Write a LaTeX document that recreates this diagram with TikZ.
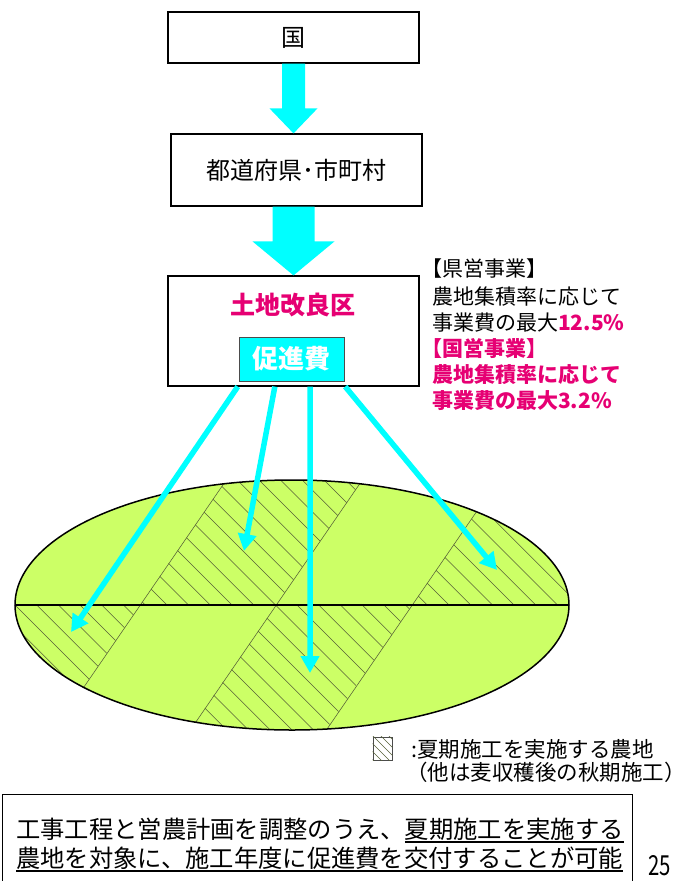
\documentclass[tikz,border=0pt]{standalone}
\usepackage{fontspec}
\setmainfont{Noto Sans CJK JP}
\usetikzlibrary{arrows.meta,calc}
\definecolor{mag}{RGB}{230,0,115}
\definecolor{fieldgreen}{RGB}{204,255,102}
\definecolor{hatchc}{RGB}{85,95,55}
\definecolor{aqua}{RGB}{0,255,255}
\newcommand\myul[1]{\setbox0\hbox{#1}\rlap{\rule[-5pt]{\wd0}{1.8pt}}\box0}
\newcommand\fsz[1]{\fontsize{#1}{#1}\selectfont}
\begin{document}
\begin{tikzpicture}[x=1pt,y=-1pt,
  box/.style={draw, line width=1.2pt, fill=white, inner sep=0pt},
  thinarrow/.style={aqua, line width=5.5pt, -{Triangle[length=17pt,width=18pt]}},
  hatch/.style={hatchc, line width=0.55pt},
  txt/.style={inner sep=0pt, anchor=base west},
]
\useasboundingbox (0,0) rectangle (700,881);

% ---------- boxes ----------
\node[box, minimum width=251pt, minimum height=51pt, font=\fsz{24}] (kuni) at (293.5,37.5) {国};
\node[box, minimum width=251pt, minimum height=72pt, font=\fsz{24}] (pref) at (296.5,170) {都道府県･市町村};
\node[box, minimum width=251pt, minimum height=110pt] (kairyo) at (293.5,331) {};
\node[inner sep=0pt, font=\fsz{25}\bfseries, text=mag] (kairyolbl) at (293,305) {土地改良区};
\node[draw=black!70, line width=0.8pt, fill=aqua, minimum width=105pt, minimum height=44pt,
      inner sep=0pt, font=\fsz{26}\bfseries, text=white] (sokushin) at (291.5,359) {促進費};

% ---------- fat arrows ----------
\coordinate (f1a) at (kuni.south);
\coordinate (f1b) at (kuni.south |- pref.north);
\fill[aqua] ($(f1a)+(-11.5,0)$) -- ($(f1b)+(-11.5,-25)$) -- ($(f1b)+(-24,-25)$) -- (f1b)
  -- ($(f1b)+(24,-25)$) -- ($(f1b)+(11.5,-25)$) -- ($(f1a)+(11.5,0)$) -- cycle;
\coordinate (f2a) at (kairyo.north |- pref.south);
\coordinate (f2b) at (kairyo.north);
\fill[aqua] ($(f2a)+(-21,0)$) -- ($(f2b)+(-21,-34)$) -- ($(f2b)+(-41,-34)$) -- (f2b)
  -- ($(f2b)+(41,-34)$) -- ($(f2b)+(21,-34)$) -- ($(f2a)+(21,0)$) -- cycle;

% ---------- side text ----------
\node[txt, font=\fsz{21}] (t1) at (432,276) {\hspace*{-0.5em}【県営事業】};
\node[txt, font=\fsz{21}] (t2) at (432,304) {農地集積率に応じて};
\node[txt, font=\fsz{21}] (t3) at (432,330) {事業費の最大{\color{mag}\bfseries 12.5\%}};
\node[txt, font=\fsz{21}\bfseries, text=mag] (t4) at (432,356) {\hspace*{-0.5em}【国営事業】};
\node[txt, font=\fsz{21}\bfseries, text=mag] (t5) at (432,382) {農地集積率に応じて};
\node[txt, font=\fsz{21}\bfseries, text=mag] (t6) at (432,408) {事業費の最大3.2\%};

% ---------- field ----------
\begin{scope}
  \clip (292,605) ellipse [x radius=277, y radius=125];
  \fill[fieldgreen] (0,470) rectangle (600,740);
  \begin{scope}
    \clip (140,605) -- (276,605) -- (369.2,470) -- (233.2,470) -- cycle
          (412,605) -- (620,605) -- (620,470) -- (505.2,470) -- cycle
          (-20,605) -- (140,605) -- (50.3,735) -- (-20,735) -- cycle
          (276,605) -- (412,605) -- (322.3,735) -- (186.3,735) -- cycle;
    \foreach \c in {-741.9,-720.2,...,160} \draw[hatch] (\c+440,440) -- (\c+800,800);
  \end{scope}
  \draw[hatch] (233.2,470) -- (47.5,740);
  \draw[hatch] (369.2,470) -- (183.5,740);
  \draw[hatch] (505.2,470) -- (319.5,740);
  \draw[line width=1.2pt] (0,605) -- (600,605);
\end{scope}
\draw[line width=1.5pt] (292,605) ellipse [x radius=277, y radius=125];

% ---------- thin arrows ----------
\coordinate (s1) at ($(kairyo.south west)!0.279!(kairyo.south east)$);
\coordinate (s2) at ($(kairyo.south west)!0.426!(kairyo.south east)$);
\coordinate (s3) at ($(kairyo.south west)!0.566!(kairyo.south east)$);
\coordinate (s4) at ($(kairyo.south west)!0.705!(kairyo.south east)$);
\coordinate (e1) at (71,632);
\coordinate (e2) at (244,551);
\coordinate (e3) at (310,673);
\coordinate (e4) at (497,570);
\draw[thinarrow] (s1) -- (e1);
\draw[thinarrow] (s2) -- (e2);
\draw[thinarrow] (s3) -- (e3);
\draw[thinarrow] (s4) -- (e4);

% ---------- legend ----------
\node[draw=black!70, line width=0.6pt, minimum width=19pt, minimum height=23pt, inner sep=0pt] (legsq) at (382.5,748.5) {};
\begin{scope}
  \clip (legsq.south west) rectangle (legsq.north east);
  \foreach \c in {-387,-379,...,-343} \draw[hatch] (\c+700,700) -- (\c+800,800);
\end{scope}
\node[txt, font=\fsz{21.5}] (leg1) at (411,757) {:夏期施工を実施する農地};
\node[txt, font=\fsz{21.5}] (leg2) at (406,780) {（他は麦収穫後の秋期施工）};

% ---------- bottom note ----------
\node[draw, line width=1.2pt, anchor=north west, minimum width=630pt, minimum height=120pt, inner sep=0pt] (note) at (2,794) {};
\node[txt, font=\fsz{24.3}] (n1) at (16,838) {工事工程と営農計画を調整のうえ、\myul{夏期施工を実施する}};
\node[txt, font=\fsz{24.3}] (n2) at (16,867) {\myul{農地を対象に、施工年度に促進費を交付することが可能}};
\node[txt, font=\fsz{24}] (pg) at (648,875) {\scalebox{0.85}[1.15]{25}};
\end{tikzpicture}
\end{document}
